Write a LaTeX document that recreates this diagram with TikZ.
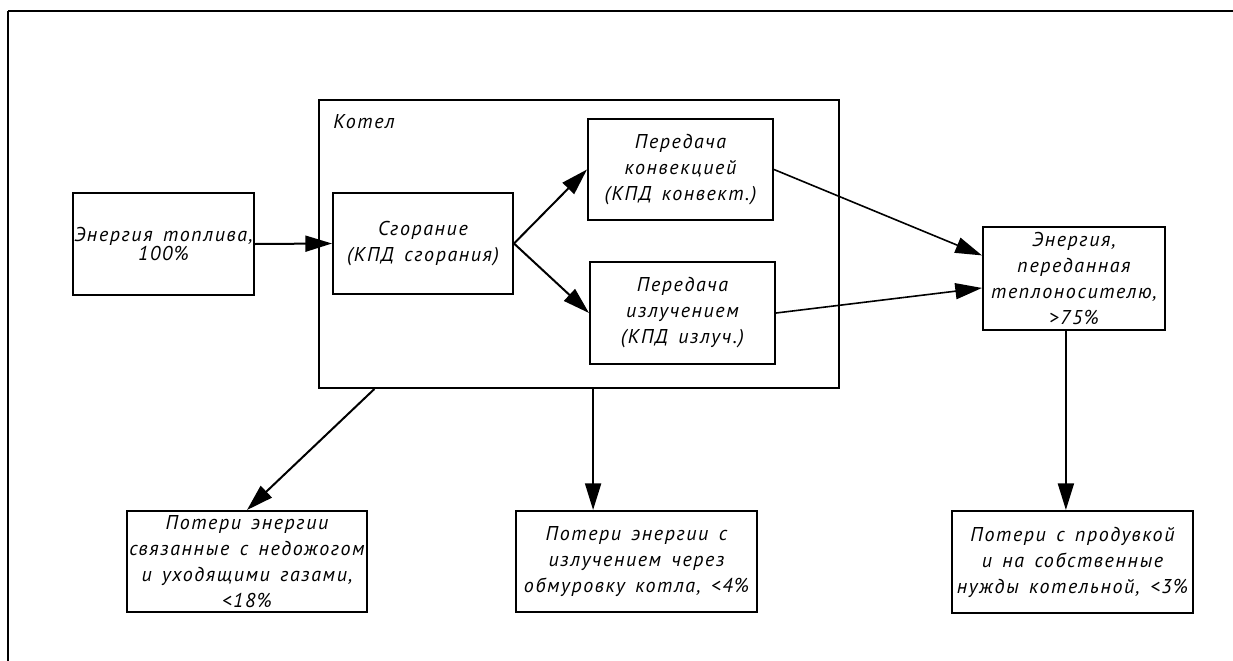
\documentclass[tikz,border=0pt]{standalone}
\usepackage{fontspec}
\setmainfont{PT Sans}[LetterSpace=8,WordSpace=1.5]
\usetikzlibrary{arrows.meta,calc}
\begin{document}
\begin{tikzpicture}[x=0.75pt,y=-0.75pt,
  txt/.style={font=\itshape\fontsize{15}{19.5}\selectfont},
  box/.style={draw, line width=1.5pt, align=center, inner sep=0pt, txt},
  arr/.style={line width=1.5pt, -{Triangle[length=20pt,width=12pt]}},
  thinarr/.style={line width=1.2pt, -{Triangle[length=20pt,width=12pt]}},
  frame/.style={line width=1.5pt}
]
\useasboundingbox (0,0) rectangle (1233,661);
\draw[frame] (8,11) -- (1233,11);
\draw[frame] (8,11) -- (8,661);

\node[box, minimum width=181*0.75pt, minimum height=102*0.75pt, font=\itshape\fontsize{15}{13.5}\selectfont] (fuel) at (163.5,244) {Энергия топлива,\\100\%};
\node[draw, line width=1.5pt, minimum width=520*0.75pt, minimum height=288*0.75pt, inner sep=0pt] (kotel) at (579,244) {};
\node[txt, anchor=west, inner sep=0pt] (kotlbl) at (333,122) {Котел};
\node[box, minimum width=180*0.75pt, minimum height=101*0.75pt] (burn) at (423,243.5) {Сгорание\\(КПД сгорания)};
\node[box, minimum width=185*0.75pt, minimum height=101*0.75pt] (conv) at (680.5,169.5) {Передача\\конвекцией\\(КПД конвект.)};
\node[box, minimum width=185*0.75pt, minimum height=102*0.75pt] (rad) at (682.5,313) {Передача\\излучением\\(КПД излуч.)};
\node[box, minimum width=182*0.75pt, minimum height=103*0.75pt] (heat) at (1074,278.5) {Энергия,\\переданная\\теплоносителю,\\>75\%};
\node[box, minimum width=240*0.75pt, minimum height=101*0.75pt] (loss1) at (247,561.5) {Потери энергии\\связанные с недожогом\\и уходящими газами,\\<18\%};
\node[box, minimum width=241*0.75pt, minimum height=101*0.75pt] (loss2) at (636.5,561.5) {Потери энергии с\\излучением через\\обмуровку котла, <4\%};
\node[box, minimum width=241*0.75pt, minimum height=102*0.75pt] (loss3) at (1072.5,562) {Потери с продувкой\\и на собственные\\нужды котельной, <3\%};

\draw[arr] (fuel.east) -- (burn.west);
\draw[arr] (burn.east) -- (conv.west);
\draw[arr] (burn.east) -- (rad.west);
\draw[thinarr] (conv.east) -- ($(heat.north west)!0.28!(heat.south west)$);
\draw[thinarr] (rad.east) -- ($(heat.north west)!0.59!(heat.south west)$);
\coordinate (k1) at ($(kotel.south west)!0.108!(kotel.south east)$);
\coordinate (k2) at ($(kotel.south west)!0.527!(kotel.south east)$);
\coordinate (h1) at ($(heat.south west)!0.456!(heat.south east)$);
\draw[arr] (k1) -- (loss1.north);
\draw[arr] (k2) -- (k2 |- loss2.north);
\draw[arr] (h1) -- (h1 |- loss3.north);
\end{tikzpicture}
\end{document}
